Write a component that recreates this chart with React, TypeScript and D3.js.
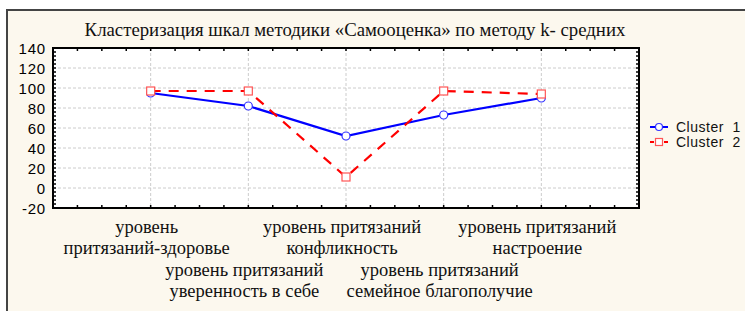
import React from "react";
import * as d3 from "d3";

const title = "Кластеризация шкал методики «Самооценка» по методу k- средних";
const categories = [
  ["уровень", "притязаний-здоровье"],
  ["уровень притязаний", "уверенность в себе"],
  ["уровень притязаний", "конфликность"],
  ["уровень притязаний", "семейное благополучие"],
  ["уровень притязаний", "настроение"],
];
const cluster1 = [95, 82, 52, 73, 90];
const cluster2 = [97, 97, 11, 97, 94];
const yTicks = [-20, 0, 20, 40, 60, 80, 100, 120, 140];
const seriesNames = ["Cluster  1", "Cluster  2"];

const W = 745;
const H = 311;
const plot = { left: 53, right: 639, top: 48, bottom: 208 };

export default function App() {
  const x = d3.scaleLinear().domain([0, categories.length + 1]).range([plot.left, plot.right]);
  const y = d3.scaleLinear().domain([-20, 140]).range([plot.bottom, plot.top]);
  const line = d3.line<number>().x((_, i) => x(i + 1)).y((d) => y(d));

  const minorX = d3.range(0, categories.length + 1 + 0.001, 0.25);
  const minorY = d3.range(-20, 140.001, 4);
  const serif = "'Liberation Serif', 'Times New Roman', serif";
  const sans = "'Liberation Sans', Arial, sans-serif";

  return (
    <svg width={W} height={H} style={{ position: "absolute", left: 0, top: 0 }}>
      <rect x={0} y={0} width={W} height={H} fill="#fff" />
      <rect x={7} y={10} width={W} height={H} fill="#fcf8ee" stroke="#444" strokeWidth={2} />
      <text x={355} y={36} textAnchor="middle" fontFamily={serif} fontSize={18.8} fill="#111">{title}</text>

      <rect x={plot.left} y={plot.top} width={plot.right - plot.left} height={plot.bottom - plot.top} fill="#fff" />
      {yTicks.slice(1, -1).map((t) => (
        <line key={"gy" + t} x1={plot.left} x2={plot.right} y1={y(t)} y2={y(t)} stroke="#ccc" strokeDasharray="3,2" />
      ))}
      {categories.map((_, i) => (
        <line key={"gx" + i} x1={x(i + 1)} x2={x(i + 1)} y1={plot.top} y2={plot.bottom} stroke="#ccc" strokeDasharray="3,2" />
      ))}
      {minorX.map((v) => (
        <g key={"tx" + v}>
          <line x1={x(v)} x2={x(v)} y1={plot.top} y2={plot.top + 3} stroke="#000" strokeWidth={1.5} />
          <line x1={x(v)} x2={x(v)} y1={plot.bottom} y2={plot.bottom - 3} stroke="#000" strokeWidth={1.5} />
        </g>
      ))}
      {minorY.map((v) => (
        <g key={"ty" + v}>
          <line x1={plot.left} x2={plot.left + 3} y1={y(v)} y2={y(v)} stroke="#000" strokeWidth={1.5} />
          <line x1={plot.right} x2={plot.right - 3} y1={y(v)} y2={y(v)} stroke="#000" strokeWidth={1.5} />
        </g>
      ))}
      <rect x={plot.left} y={plot.top} width={plot.right - plot.left} height={plot.bottom - plot.top} fill="none" stroke="#000" strokeWidth={2} />

      {yTicks.map((t) => (
        <text key={"yl" + t} x={46} y={y(t) + 5.5} textAnchor="end" fontFamily={sans} fontSize={15} letterSpacing={0.8} fill="#000">{t}</text>
      ))}

      <path d={line(cluster1) ?? ""} fill="none" stroke="#0000ff" strokeWidth={2.2} />
      <path d={line(cluster2) ?? ""} fill="none" stroke="#ff0000" strokeWidth={2.2} strokeDasharray="10,8" />
      {cluster1.map((v, i) => (
        <circle key={"c1" + i} cx={x(i + 1)} cy={y(v)} r={4} fill="#fff" stroke="#3333ff" strokeWidth={1.2} />
      ))}
      {cluster2.map((v, i) => (
        <rect key={"c2" + i} x={x(i + 1) - 4} y={y(v) - 4} width={8} height={8} fill="#fff" stroke="#ff5555" strokeWidth={1.2} />
      ))}

      {categories.map((lines, i) => {
        const base = i % 2 === 0 ? 227 : 270;
        return (
          <text key={"cl" + i} textAnchor="middle" fontFamily={serif} fontSize={18.5} fill="#111">
            {lines.map((s, j) => (
              <tspan key={j} x={x(i + 1) - 4} y={base + 6 + j * 21}>{s}</tspan>
            ))}
          </text>
        );
      })}

      {seriesNames.map((name, i) => {
        const ly = 127 + i * 15;
        return (
          <g key={name}>
            {i === 0 ? (
              <>
                <line x1={650} x2={668} y1={ly} y2={ly} stroke="#0000ff" strokeWidth={2} />
                <circle cx={659} cy={ly} r={3.5} fill="#fff" stroke="#3333ff" strokeWidth={1.2} />
              </>
            ) : (
              <>
                <line x1={650} x2={668} y1={ly} y2={ly} stroke="#ff0000" strokeWidth={2} strokeDasharray="4,10,4" />
                <rect x={655.5} y={ly - 3.5} width={7} height={7} fill="#fff" stroke="#ff5555" strokeWidth={1.2} />
              </>
            )}
            <text x={676} y={ly + 5} fontFamily={sans} fontSize={14} letterSpacing={0.5} style={{ whiteSpace: "pre" }} fill="#111">{name}</text>
          </g>
        );
      })}
    </svg>
  );
}
